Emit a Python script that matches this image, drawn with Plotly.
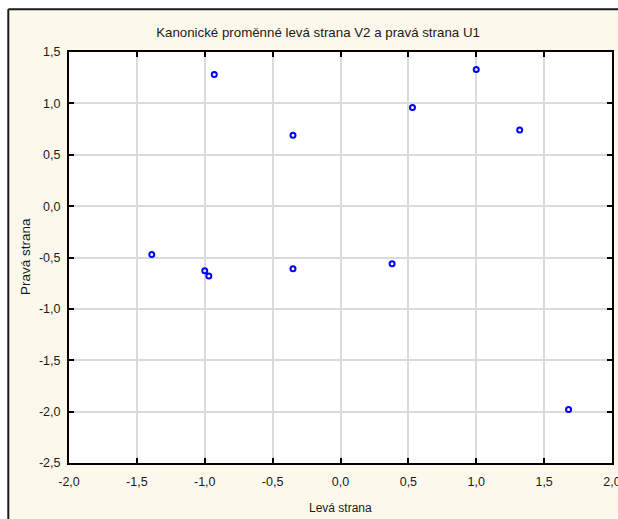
import plotly.graph_objects as go

# Data
leva_strana = [-1.39, -0.93, -1.00, -0.97, -0.35, -0.35, 0.38, 0.53, 1.00, 1.32, 1.68]
prava_strana = [-0.47, 1.28, -0.63, -0.68, 0.69, -0.61, -0.56, 0.96, 1.33, 0.74, -1.98]

x_tick_vals = [-2.0, -1.5, -1.0, -0.5, 0.0, 0.5, 1.0, 1.5, 2.0]
x_tick_text = ["-2,0", "-1,5", "-1,0", "-0,5", "0,0", "0,5", "1,0", "1,5", "2,0"]
y_tick_vals = [-2.5, -2.0, -1.5, -1.0, -0.5, 0.0, 0.5, 1.0, 1.5]
y_tick_text = ["-2,5", "-2,0", "-1,5", "-1,0", "-0,5", "0,0", "0,5", "1,0", "1,5"]

title_text = "Kanonické proměnné levá strana V2 a pravá strana U1"
x_title = "Levá strana"
y_title = "Pravá strana"

W, H = 618, 519
L, T = 69, 52
R = W - 612
B = H - 463
pw, ph = W - L - R, H - T - B

def px_x(p):
    return (p - L) / pw

def px_y(p):
    return (H - B - p) / ph

font_main = "Liberation Sans, Arial, sans-serif"
frame_col = "#1A1A1A"

fig = go.Figure()
fig.add_trace(go.Scatter(
    x=leva_strana, y=prava_strana, mode="markers",
    marker=dict(symbol="circle-open", size=5, color="#0000FF",
                line=dict(width=2, color="#0000FF")),
    showlegend=False, hoverinfo="x+y",
))

axis_common = dict(
    showline=True, linecolor="black", linewidth=2, mirror="ticks",
    ticks="inside", ticklen=5, tickwidth=2, tickcolor="black",
    showgrid=True, gridcolor="#DADADA", gridwidth=2,
    zeroline=False, automargin=False,
    tickfont=dict(family=font_main, size=12.5, color="#1A1A1A"),
)

fx0, fx1 = px_x(8.3), px_x(W)
fy0, fy1 = px_y(H), px_y(9.3)

fig.update_layout(
    width=W, height=H, autosize=False,
    margin=dict(l=L, r=R, t=T, b=B, pad=0, autoexpand=False),
    paper_bgcolor="white", plot_bgcolor="white",
    title=dict(text=title_text, x=318 / W, xref="container", xanchor="center",
               y=1 - 32.5 / H, yref="container", yanchor="middle",
               font=dict(family=font_main, size=13.3, color="#1A1A1A")),
    xaxis=dict(range=[-2, 2], tickvals=x_tick_vals, ticktext=x_tick_text,
               ticklabelstandoff=6, ticklabeloverflow="allow", **axis_common),
    yaxis=dict(range=[-2.5, 1.5], tickvals=y_tick_vals, ticktext=y_tick_text,
               ticklabelstandoff=4, **axis_common),
    shapes=[
        dict(type="rect", xref="paper", yref="paper", layer="below",
             x0=fx0, x1=fx1, y0=fy0, y1=fy1,
             fillcolor="#FDF8EC", line=dict(width=0)),
        dict(type="line", xref="paper", yref="paper", layer="below",
             x0=fx0, x1=fx0, y0=fy0, y1=fy1, line=dict(color=frame_col, width=2)),
        dict(type="line", xref="paper", yref="paper", layer="below",
             x0=fx0, x1=fx1, y0=fy1, y1=fy1, line=dict(color=frame_col, width=2)),
        dict(type="rect", xref="paper", yref="paper", layer="below",
             x0=0, x1=1, y0=0, y1=1, fillcolor="white", line=dict(width=0)),
    ],
    annotations=[
        dict(text=x_title, xref="paper", yref="paper", x=px_x(340), y=px_y(508),
             xanchor="center", yanchor="middle", showarrow=False,
             font=dict(family=font_main, size=12, color="#1A1A1A")),
        dict(text=y_title, xref="paper", yref="paper", x=px_x(25), y=px_y(257),
             xanchor="center", yanchor="middle", showarrow=False, textangle=-90,
             font=dict(family=font_main, size=13.5, color="#1A1A1A")),
    ],
)

fig.write_html(
    "out.html",
    config={"displayModeBar": False, "responsive": False},
    post_script=(
        "document.body.style.margin='0';"
        "document.documentElement.style.overflow='hidden';"
        "document.body.style.overflow='hidden';"
    ),
)
